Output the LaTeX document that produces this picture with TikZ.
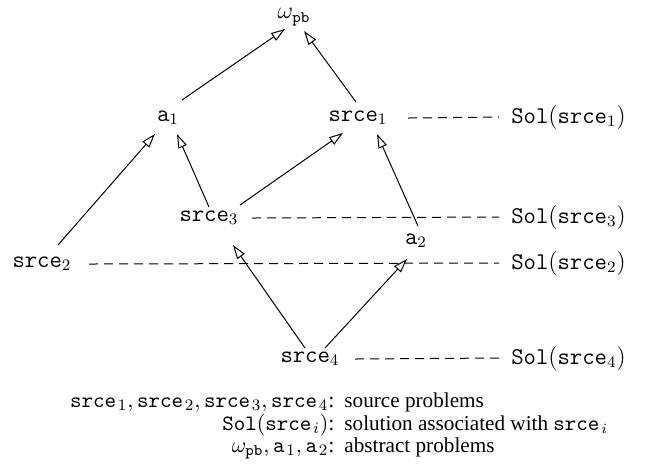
\documentclass[tikz,border=0pt]{standalone}
\usepackage[no-math]{fontspec}
\setmainfont{Liberation Serif}
\usetikzlibrary{arrows.meta}
\newcommand{\lsub}[2]{{#1\mkern1.5mu}_{#2}}
\begin{document}
\begin{tikzpicture}[x=0.5pt,y=-0.5pt,
  lbl/.style={font=\fontsize{12}{14}\selectfont, inner sep=0pt},
  sol/.style={lbl, anchor=west},
  legl/.style={font=\fontsize{11}{12}\selectfont, inner sep=0pt, anchor=base east},
  legr/.style={font=\fontsize{10.6}{12}\selectfont, inner sep=0pt, anchor=base west},
  arr/.style={line width=0.5pt, -{Triangle[open,length=7pt,width=4.5pt]}},
  dsh/.style={line width=0.5pt, dash pattern=on 4.5pt off 3pt}]
\useasboundingbox (0,0) rectangle (646,463);
\node[lbl] (w)  at (294,17)  {$\omega_{\mathtt{pb}}$};
\node[lbl] (a1) at (168,118) {$\mathtt{a}_1$};
\node[lbl] (s1) at (358,118) {$\mathtt{srce}_1$};
\node[sol] (sol1) at (511,117) {$\mathtt{Sol}(\mathtt{srce}_1)$};
\node[lbl] (s3) at (209,218) {$\mathtt{srce}_3$};
\node[sol] (sol3) at (511,217) {$\mathtt{Sol}(\mathtt{srce}_3)$};
\node[lbl] (a2) at (416,241) {$\mathtt{a}_2$};
\node[lbl] (s2) at (42,264) {$\mathtt{srce}_2$};
\node[sol] (sol2) at (511,263) {$\mathtt{Sol}(\mathtt{srce}_2)$};
\node[lbl] (s4) at (310,359) {$\mathtt{srce}_4$};
\node[sol] (sol4) at (511,358) {$\mathtt{Sol}(\mathtt{srce}_4)$};
\draw[arr] ([shift={(14,-18)}]a1.center) -- ([shift={(-9,12)}]w.center);
\draw[arr] ([shift={(-2,-16)}]s1.center) -- ([shift={(10,14)}]w.center);
\draw[arr] ([shift={(16,-19)}]s2.center) -- ([shift={(-13,16)}]a1.center);
\draw[arr] ([shift={(0,-11)}]s3.center) -- ([shift={(9,16)}]a1.center);
\draw[arr] ([shift={(31,-13)}]s3.center) -- ([shift={(-15,15)}]s1.center);
\draw[arr] ([shift={(2,-15)}]a2.center) -- ([shift={(19,16)}]s1.center);
\draw[arr] ([shift={(-5,-11)}]s4.center) -- ([shift={(24,27)}]s3.center);
\draw[arr] ([shift={(15,-11)}]s4.center) -- ([shift={(-9,18)}]a2.center);
\draw[dsh] ([shift={(50,0)}]s1.center) -- ([shift={(-12,0)}]sol1.west);
\draw[dsh] ([shift={(43,0)}]s3.center) -- ([shift={(-12,0)}]sol3.west);
\draw[dsh] ([shift={(47,0)}]s2.center) -- ([shift={(-12,0)}]sol2.west);
\draw[dsh] ([shift={(45,0)}]s4.center) -- ([shift={(-12,0)}]sol4.west);
\node[legl] (l1) at (335,407) {$\lsub{\mathtt{srce}}{1}, \lsub{\mathtt{srce}}{2}, \lsub{\mathtt{srce}}{3}, \lsub{\mathtt{srce}}{4}$:};
\node[legr] (r1) at (344,407) {source problems};
\node[legl] (l2) at (335,430) {$\mathtt{Sol}(\lsub{\mathtt{srce}}{i})$:};
\node[legr] (r2) at (344,430) {solution associated with $\lsub{\mathtt{srce}}{i}$};
\node[legl] (l3) at (335,452) {$\omega_{\mathtt{pb}}, \lsub{\mathtt{a}}{1}, \lsub{\mathtt{a}}{2}$:};
\node[legr] (r3) at (344,452) {abstract problems};
\end{tikzpicture}
\end{document}
